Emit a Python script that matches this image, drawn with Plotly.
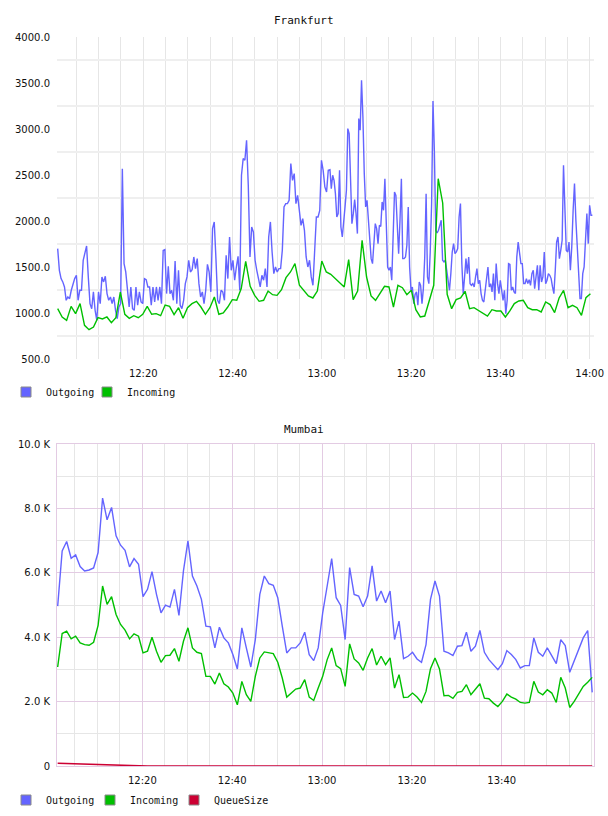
import pandas as pd
import plotly.graph_objects as go

DAY = "2024-01-01 "

# ---------------- Frankfurt ----------------
fra_incoming = [1047, 957, 920, 1072, 993, 1102, 866, 819, 848, 949, 935, 957, 895, 949, 1228, 986, 942, 971, 949, 986,
                1072, 986, 993, 971, 1087, 1072, 982, 1058, 942, 1058, 1102, 1127, 1065, 986, 1058, 1174, 986, 1000, 1065, 1145,
                1138, 1265, 1562, 1290, 1192, 1127, 1138, 1239, 1199, 1192, 1254, 1384, 1446, 1536, 1301, 1247, 1185, 1163, 1239, 1565,
                1446, 1420, 1373, 1337, 1283, 1580, 1145, 1239, 1790, 1391, 1185, 1138, 1218, 1290, 1283, 1065, 1301, 1275, 1199, 1246,
                1036, 957, 967, 1138, 1301, 2460, 2196, 1203, 1047, 1145, 1163, 1236, 1047, 1058, 1029, 1000, 967, 1036, 1022, 1022,
                957, 1022, 1102, 1131, 1138, 1058, 1036, 1036, 1011, 1120, 1091, 1004, 1163, 1246, 1058, 1083, 1058, 975, 1167, 1210]

fra_outgoing_first_hour = [
    1700, 1464, 1374, 1338, 1283, 1138, 1174, 1156, 1247, 1319, 1374, 1410, 1138, 1247, 1247, 1573, 1663, 1729, 1392, 1102,
    1047, 1229, 1029, 921, 1229, 1102, 1392, 1338, 1399, 1211, 1138, 1174, 1102, 1174, 1029, 939, 1066, 1102, 2569, 1537,
    1446, 1229, 1066, 1283, 1047, 1029, 1283, 1084, 1229, 1120, 1102, 1374, 1363, 1283, 1283, 1084, 1283, 1120, 1283, 1138,
    1283, 1102, 1681, 1689, 1211, 1508, 1211, 1247, 1138, 1566, 1102, 1464, 1084, 1047, 1138, 1319, 1392, 1573, 1446, 1471,
    1609, 1482, 1591, 1319, 1174, 1229, 1102, 1247, 1529, 1446, 1229, 1917, 1990, 1591, 1138, 1102, 1247, 1229, 1138, 1627,
    1374, 1826, 1464, 1573, 1356, 1500, 1616, 1247, 2497, 2678, 2660, 2877, 2388, 1609, 1935, 1881, 1573, 1464, 1374, 1283,
    1410, 1356, 1482, 1283, 1826, 1990, 1663, 1428, 1500, 1446, 1482, 1482, 1681, 2153, 2189, 2189, 2225, 2624, 2442, 2515,
    2189, 2279, 2116, 1953, 2026, 1899, 1609, 1500, 1573, 1392, 1301, 1754, 2044, 2044, 2116, 2660, 2551, 2370, 2316, 2551,
    2558]

fra_outgoing_second_hour = [
    2352, 2497, 2442, 2297, 2044, 2080, 2551, 1935, 1826, 2044, 2153, 2334, 3004, 2950, 2442, 1971, 2080, 2232, 2080, 1863,
    3113, 2986, 3529, 3131, 2515, 2153, 2225, 1990, 1826, 1591, 1537, 1790, 1971, 1917, 1754, 1953, 1942, 2207, 2116, 2460,
    2044, 1500, 1464, 1500, 1356, 1736, 2316, 2279, 1899, 1645, 2008, 2460, 1591, 1591, 1609, 1736, 2153, 1500, 1247, 1283,
    1102, 1203, 1229, 1084, 1337, 1301, 1102, 1265, 1609, 2297, 1392, 1319, 1663, 2189, 3305, 2768, 1899, 1870, 1899, 1971,
    2008, 1573, 1555, 1573, 1464, 1319, 1247, 1428, 1663, 1754, 1645, 1663, 1700, 2044, 2189, 1537, 1211, 1392, 1591, 1428,
    1609, 1319, 1301, 1319, 1283, 1392, 1482, 1319, 1356, 1211, 1138, 1120, 1265, 1428, 1500, 1283, 1319, 1229, 1428, 1138,
    1537, 1319, 1211, 1356, 1247, 1138, 1247, 993, 1138, 1537, 1529, 1247, 1283, 1229, 1211, 1609, 1772, 1663, 1537, 1537,
    1319, 1319, 1374, 1319, 1363, 1301, 1428, 1464, 1265, 1392, 1518, 1247, 1518, 1337, 1392, 1663, 1319, 1356, 1428, 1410,
    1374, 1283, 1211, 1464, 1772, 1826, 1591, 1681, 1790, 2605, 2225, 1681, 1663, 1772, 1464, 1718, 2116, 2406, 2008, 1718,
    1319, 1156, 1156, 1428, 1500, 1863, 2080, 1754, 2171, 2062, 2062]

fra_y_ticks = [500, 1000, 1500, 2000, 2500, 3000, 3500, 4000]
fra_y_labels = ["500.0", "1000.0", "1500.0", "2000.0", "2500.0", "3000.0", "3500.0", "4000.0"]

# ---------------- Mumbai ----------------
mum_outgoing = [4966, 6681, 6971, 6452, 6556, 6192, 6057, 6088, 6151, 6629, 8322, 7647, 8031, 7148, 6857, 6701, 6182, 6442, 6265, 5257,
                5486, 6036, 5330, 4758, 4997, 4935, 5486, 4675, 6057, 6992, 5901, 5590, 5174, 4343, 4322, 3668, 4312, 3979, 3823, 3460,
                3013, 4291, 3668, 3075, 3927, 5330, 5901, 5662, 5610, 5226, 4343, 3512, 3668, 3668, 3823, 4156, 3460, 3273, 3668, 4758,
                5590, 6442, 5226, 4987, 3927, 6161, 5330, 5278, 4945, 5278, 6213, 5122, 5434, 5070, 5434, 3927, 4499, 3335, 3408, 3532,
                3325, 3221, 3771, 5174, 5745, 5278, 3564, 3512, 3429, 3719, 3740, 4156, 3564, 3719, 4208, 3532, 3304, 3148, 2992, 3179,
                3584, 3460, 3304, 3044, 3117, 3117, 3979, 3532, 3408, 3668, 3408, 3179, 3927, 3740, 2909, 3252, 3636, 3979, 4208, 2286]

mum_incoming = [3075, 4114, 4187, 3948, 4031, 3823, 3771, 3751, 3844, 4364, 5590, 5018, 5257, 4706, 4395, 4218, 3948, 4104, 4031, 3512,
                3564, 4000, 3564, 3221, 3429, 3439, 3647, 3252, 3875, 4291, 3668, 3532, 3491, 2784, 2784, 2545, 2888, 2556, 2452, 2265,
                1901, 2629, 2213, 2005, 2784, 3356, 3543, 3512, 3491, 3221, 2732, 2140, 2265, 2390, 2421, 2681, 2140, 2036, 2421, 2784,
                3304, 3668, 3117, 3023, 2473, 3792, 3325, 3200, 2971, 3356, 3647, 3138, 3408, 3148, 3356, 2421, 2836, 2130, 2140, 2265,
                2140, 1974, 2317, 3023, 3356, 3013, 2182, 2192, 2099, 2286, 2317, 2525, 2213, 2400, 2556, 2109, 2088, 1953, 1849, 2005,
                2234, 2140, 2078, 1974, 1953, 1974, 2629, 2296, 2213, 2369, 2265, 1974, 2753, 2421, 1818, 2005, 2234, 2473, 2598, 2753]

mum_queue = [85, 80, 75, 69, 63, 57, 51, 45, 39, 33, 27, 22, 17, 12, 8, 5, 3, 1, 0, 0,
             0, 0, 0, 0, 0, 0, 0, 0, 0, 0, 0, 0, 0, 0, 0, 0, 0, 0, 0, 0,
             0, 0, 0, 0, 0, 0, 0, 0, 0, 0, 0, 0, 0, 0, 0, 0, 0, 0, 0, 0,
             0, 0, 0, 0, 0, 0, 0, 0, 0, 0, 0, 0, 0, 0, 0, 0, 0, 0, 0, 0,
             0, 0, 0, 0, 0, 0, 0, 0, 0, 0, 0, 0, 0, 0, 0, 0, 0, 0, 0, 0,
             0, 0, 0, 0, 0, 0, 0, 0, 0, 0, 0, 0, 0, 0, 0, 0, 0, 0, 0, 0]

mum_y_ticks = [0, 2000, 4000, 6000, 8000, 10000]
mum_y_labels = ["0", "2.0 K", "4.0 K", "6.0 K", "8.0 K", "10.0 K"]
mum_x_ticks = ["12:20", "12:40", "13:00", "13:20", "13:40"]

# ---------------- time stamps ----------------
t_fra_in = pd.date_range(DAY + "12:00:49", DAY + "14:00:10", periods=len(fra_incoming))
t_fra_out_a = pd.date_range(DAY + "12:00:49", DAY + "13:01:49", periods=len(fra_outgoing_first_hour))
t_fra_out_b = pd.date_range(DAY + "13:02:07", DAY + "14:00:36", periods=len(fra_outgoing_second_hour))
t_fra_out = list(t_fra_out_a) + list(t_fra_out_b)
fra_outgoing = fra_outgoing_first_hour + fra_outgoing_second_hour
t_mum = pd.date_range(DAY + "12:01:09", DAY + "14:00:09", periods=len(mum_outgoing))

BLUE = "#6464ff"
GREEN = "#00c000"
RED = "#cc0033"
GRAY = "#e6e6e6"
GRAY_H = "#efefef"
PINK = "#e3cbe3"
TXT = "#111111"
MONO = "DejaVu Sans Mono"
SANS = "DejaVu Sans"

fig = go.Figure()

fig.add_trace(go.Scatter(x=t_fra_out, y=fra_outgoing, mode="lines", line=dict(color=BLUE, width=1.4),
                         showlegend=False, xaxis="x", yaxis="y", hoverinfo="skip"))
fig.add_trace(go.Scatter(x=t_fra_in, y=fra_incoming, mode="lines", line=dict(color=GREEN, width=1.4),
                         showlegend=False, xaxis="x", yaxis="y", hoverinfo="skip"))
fig.add_trace(go.Scatter(x=t_mum, y=mum_outgoing, mode="lines", line=dict(color=BLUE, width=1.4),
                         showlegend=False, xaxis="x2", yaxis="y2", hoverinfo="skip"))
fig.add_trace(go.Scatter(x=t_mum, y=mum_incoming, mode="lines", line=dict(color=GREEN, width=1.4),
                         showlegend=False, xaxis="x2", yaxis="y2", hoverinfo="skip"))
fig.add_trace(go.Scatter(x=t_mum, y=mum_queue, mode="lines", line=dict(color=RED, width=1.6),
                         showlegend=False, xaxis="x2", yaxis="y2", hoverinfo="skip"))

def legend_entry(name, color, legend, xa, ya, edge="#8a8a8a"):
    fig.add_trace(go.Scatter(x=[None], y=[None], mode="markers", name=name, legend=legend,
                             marker=dict(symbol="square", size=10, color=color, line=dict(color=edge, width=1)),
                             xaxis=xa, yaxis=ya, hoverinfo="skip"))

legend_entry("Outgoing", BLUE, "legend", "x", "y")
legend_entry("Incoming", GREEN, "legend", "x", "y")
legend_entry(" ", "rgba(0,0,0,0)", "legend", "x", "y", edge="rgba(0,0,0,0)")  # spacer so the last label is not clipped
legend_entry("Outgoing", BLUE, "legend2", "x2", "y2")
legend_entry("Incoming", GREEN, "legend2", "x2", "y2")
legend_entry("QueueSize", RED, "legend2", "x2", "y2")
legend_entry(" ", "rgba(0,0,0,0)", "legend2", "x2", "y2", edge="rgba(0,0,0,0)")

W, H = 608, 816
xdom = [57 / W, 594 / W]
top_dom = [1 - 359 / H, 1 - 37 / H]
bot_dom = [1 - 766 / H, 1 - 444 / H]
tickfont = dict(family=SANS, size=10, color=TXT)
FIVE_MIN = 5 * 60 * 1000
TWENTY_MIN = 20 * 60 * 1000
legfont = dict(family=MONO, size=10, color=TXT)

fig.update_layout(
    width=W, height=H, margin=dict(l=0, r=0, t=0, b=0, autoexpand=False),
    paper_bgcolor="white", plot_bgcolor="white",
    xaxis=dict(domain=xdom, anchor="y", type="date", automargin=False,
               range=[DAY + "12:00:40", DAY + "14:00:58"],
               tick0=DAY + "12:00", dtick=TWENTY_MIN, tickformat="%H:%M",
               showgrid=True, gridcolor=GRAY, gridwidth=1,
               minor=dict(dtick=FIVE_MIN, tick0=DAY + "12:00", showgrid=True, gridcolor=GRAY, gridwidth=1),
               ticks="outside", ticklen=5, tickcolor="rgba(0,0,0,0)",
               showline=False, zeroline=False, tickfont=tickfont, fixedrange=True),
    yaxis=dict(domain=top_dom, anchor="x", range=[500, 4000], automargin=False,
               tickmode="array", tickvals=fra_y_ticks, ticktext=fra_y_labels,
               showgrid=False,
               minor=dict(tickmode="linear", tick0=750, dtick=500, showgrid=True, gridcolor=GRAY_H, gridwidth=2),
               ticks="outside", ticklen=4, tickcolor="rgba(0,0,0,0)",
               showline=False, zeroline=False, tickfont=tickfont, fixedrange=True),
    xaxis2=dict(domain=xdom, anchor="y2", type="date", automargin=False,
                range=[DAY + "12:01:00", DAY + "14:00:33"],
                tickmode="array", tickvals=[DAY + t for t in mum_x_ticks], ticktext=mum_x_ticks,
                showgrid=True, gridcolor=PINK, gridwidth=1,
                minor=dict(tickmode="linear", dtick=FIVE_MIN, tick0=DAY + "12:00", showgrid=True, gridcolor=GRAY, gridwidth=1),
                ticks="outside", ticklen=5, tickcolor="rgba(0,0,0,0)",
                showline=True, mirror=True, linecolor=PINK, linewidth=1,
                zeroline=False, tickfont=tickfont, fixedrange=True),
    yaxis2=dict(domain=bot_dom, anchor="x2", range=[0, 10000], automargin=False,
                tickmode="array", tickvals=mum_y_ticks, ticktext=mum_y_labels,
                showgrid=True, gridcolor=PINK, gridwidth=1,
                minor=dict(tickmode="linear", tick0=0, dtick=1000, showgrid=True, gridcolor=GRAY, gridwidth=1),
                ticks="outside", ticklen=4, tickcolor="rgba(0,0,0,0)",
                showline=True, mirror=True, linecolor=PINK, linewidth=1,
                zeroline=False, tickfont=tickfont, fixedrange=True),
    legend=dict(orientation="h", x=6 / W, y=1 - 392 / H, xanchor="left", yanchor="middle",
                font=legfont, bgcolor="rgba(0,0,0,0)", itemwidth=30, tracegroupgap=0,
                entrywidth=36, entrywidthmode="pixels", itemclick=False, itemdoubleclick=False),
    legend2=dict(orientation="h", x=6 / W, y=1 - 800 / H, xanchor="left", yanchor="middle",
                 font=legfont, bgcolor="rgba(0,0,0,0)", itemwidth=30, tracegroupgap=0,
                 entrywidth=39, entrywidthmode="pixels", itemclick=False, itemdoubleclick=False),
    annotations=[
        dict(text="Frankfurt", x=0.5, y=1 - 20 / H, xref="paper", yref="paper", showarrow=False,
             font=dict(family=MONO, size=11, color=TXT), xanchor="center", yanchor="middle"),
        dict(text="Mumbai", x=0.5, y=1 - 429 / H, xref="paper", yref="paper", showarrow=False,
             font=dict(family=MONO, size=11, color=TXT), xanchor="center", yanchor="middle"),
    ],
    showlegend=True,
)

fig.write_html("out.html")
